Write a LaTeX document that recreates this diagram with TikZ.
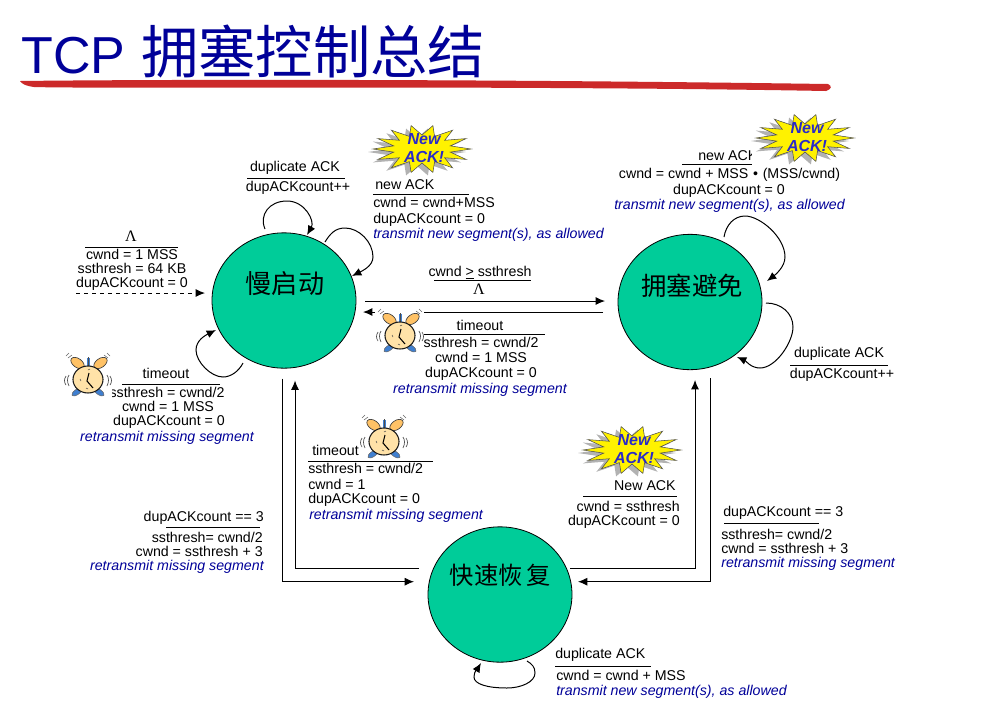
\documentclass[tikz,border=0pt]{standalone}
\usepackage{fontspec}
\setmainfont{Liberation Sans}
\newfontfamily\cjkfont{Noto Sans CJK SC}
\newfontfamily\lamfont{Liberation Serif}
\usetikzlibrary{arrows.meta,shapes.geometric,calc}
\definecolor{titleblue}{HTML}{000099}
\definecolor{statefill}{HTML}{00CC99}
\definecolor{brush}{HTML}{CC2A2A}
\definecolor{ackblue}{HTML}{2A2AC8}
\definecolor{peach}{HTML}{FFE2A8}
\definecolor{bell}{HTML}{FFC266}
\definecolor{clockblue}{HTML}{3F7FD0}
\tikzset{
  x=0.75pt,y=-0.75pt,
  state/.style={ellipse,draw=black,line width=0.6pt,fill=statefill,minimum width=108pt,minimum height=101.5pt,inner sep=0pt},
  statetext/.style={font=\cjkfont\fontsize{19}{19}\selectfont,inner sep=0pt,anchor=center},
  txt/.style={font=\fontsize{10.65}{12}\selectfont,inner sep=0pt,anchor=base},
  txtl/.style={txt,anchor=base west},
  txtr/.style={txt,anchor=base east},
  note/.style={text=titleblue,font=\fontsize{10.65}{12}\selectfont\itshape},
  lam/.style={txt,font=\lamfont\fontsize{12}{12}\selectfont},
  rulel/.style={line width=0.75pt},
  arr/.style={line width=0.75pt,-{Latex[length=7pt,width=6pt]}},
  loopa/.style={line width=0.75pt,-{Latex[length=7pt,width=6pt]}},
  burst/.pic={
    \fill[white] (-52,-27) rectangle (53,28);
    \fill[gray!60] plot[samples at={0,...,27},variable=\k] ({-4+(mod(\k,2)==0?49:29)*cos(\k*360/28)},{3+(mod(\k,2)==0?24:14)*sin(\k*360/28)}) -- cycle;
    \filldraw[fill=yellow,draw=black!70,line width=0.4pt] plot[samples at={0,...,27},variable=\k] ({1+(mod(\k,2)==0?49:29)*cos(\k*360/28)},{(mod(\k,2)==0?24:14)*sin(\k*360/28)}) -- cycle;
    \node[text=ackblue,font=\fontsize{12}{13.2}\selectfont\bfseries\itshape,align=center,inner sep=0pt] at (3,-1) {New\\ACK!};
  },
  clock/.pic={
    \fill[white] (-26,-24) rectangle (23,23);
    \foreach \sx in {-1,1}{
      \filldraw[fill=bell,draw=black!75,line width=0.5pt,rotate around={\sx*35:(\sx*11.5,-11)}] (\sx*11.5,-11) ellipse[x radius=7.5,y radius=4.5];
      \filldraw[fill=clockblue,draw=black!60,line width=0.4pt,rotate around={\sx*-35:(\sx*11-1,18)}] (\sx*11-1,18) ellipse[x radius=6,y radius=2.6];
      \draw[black!70,line width=0.5pt] (\sx*19-1,1) .. controls (\sx*21-1,4) and (\sx*21-1,8) .. (\sx*19-1,12);
      \draw[black!70,line width=0.5pt] (\sx*22-1,2) .. controls (\sx*24-1,5) and (\sx*24-1,8) .. (\sx*22-1,11);
      \draw[black!60,line width=0.4pt] (\sx*16-1,-19) -- (\sx*20-1,-16) (\sx*19-1,-21) -- (\sx*22-1,-18);
    }
    \fill[clockblue] (-2.5,-16) rectangle (0.5,-7);
    \draw[black!70,line width=0.4pt] (-1,-17) -- (-1,-8);
    \filldraw[fill=peach,draw=black!90,line width=0.8pt] (-1,5.5) ellipse[x radius=15,y radius=13.5];
    \draw[black,line width=0.8pt] (0,-1) -- (-2,7) -- (4,14);
    \draw[black!70,line width=0.4pt] (-9,5) -- (-8,7) (-1,-4) -- (1,-5) (-3,14) -- (-1,15);
  }
}
\newcommand{\tl}[5]{\node[#1] (#2) at (#3,#4) {#5};}
\begin{document}
\begin{tikzpicture}
\useasboundingbox (0,0) rectangle (986,708);
\fill[white] (0,0) rectangle (986,708);
% title
\node[inner sep=0pt,anchor=base west,text=titleblue,font=\fontsize{39}{42}\selectfont] (title) at (21,73.5) {TCP\hspace{12pt}{\cjkfont\fontsize{43}{44}\selectfont 拥塞控制总结}};
\fill[brush] (20,81) .. controls (100,80) and (400,78) .. (828,84) .. controls (832,86) and (832,89) .. (826,91) .. controls (500,85) and (100,89) .. (34,87) .. controls (26,86) and (22,84) .. (20,81) -- cycle;
% states
\node[state] (slow) at (284,300.5) {};
\node[state] (cavoid) at (690,302) {};
\node[state] (fast) at (500,594.5) {};
\node[statetext,font=\cjkfont\fontsize{19.6}{20}\selectfont] (slowt) at (285,284) {慢启动};
\node[statetext] (cavoidt) at (692,286) {拥塞避免};
\node[statetext,font=\cjkfont\fontsize{18.2}{19}\selectfont] (fastt) at (500.5,575) {快速恢\,复};
% connectors
\coordinate (init) at (76,293);
\draw[line width=0.75pt,dashed,-{Latex[length=7pt,width=6pt]}] (init) -- ([shift={(-79,-7.5)}]slow.center);
\draw[arr] ([shift={(81,0.5)}]slow.center) -- ([shift={(-85,-1)}]cavoid.center);
\draw[line width=0.75pt] ([shift={(-87,10)}]cavoid.center) -- ([shift={(-269,10)}]cavoid.center);
\draw[arr] ([shift={(-269,10)}]cavoid.center) -- ([shift={(79,11.5)}]slow.center);
\draw[arr] ([shift={(-2,78)}]slow.center) |- ([shift={(-86,-12.8)}]fast.center);
\draw[arr] ([shift={(-81,-26.5)}]fast.center) -| ([shift={(11,80)}]slow.center);
\draw[arr] ([shift={(20,76)}]cavoid.center) |- ([shift={(78,-12.8)}]fast.center);
\draw[arr] ([shift={(70,-26.5)}]fast.center) -| ([shift={(5,78)}]cavoid.center);
% loops
\draw[loopa] ([shift={(-19,-71.5)}]slow.center) .. controls +(-6,-14) and +(-18,0) .. ++(22,-28) .. controls +(18,0) and +(8,-14) .. ++(20,34);
\draw[loopa] ([shift={(41,-58.5)}]slow.center) .. controls +(5,-8) and +(-10,0) .. ++(20,-14) .. controls +(14,0) and +(0,-15) .. ++(28,29) .. controls +(0,9) and +(10,-5) .. ++(-21,19);
\draw[loopa] ([shift={(-41,62.5)}]slow.center) .. controls +(-4,8) and +(8,0) .. ++(-20,14) .. controls +(-12,0) and +(0,12) .. ++(-27,-27) .. controls +(0,-10) and +(-10,5) .. ++(20,-20);
\draw[loopa] ([shift={(27,66.5)}]fast.center) .. controls +(5,3) and +(0,-6) .. ++(8,12) .. controls +(0,9) and +(14,0) .. ++(-28,15) .. controls +(-20,0) and +(0,7) .. ++(-33,-11) .. controls +(0,-6) and +(-3,5) .. ++(7,-14);
\draw[loopa] ([shift={(34,-65)}]cavoid.center) .. controls +(2,-12) and +(-11,0) .. ++(21,-21) .. controls +(15,0) and +(0,-20) .. ++(40,41) .. controls +(0,10) and +(8,-6) .. ++(-18,24);
\draw[loopa] ([shift={(76,1)}]cavoid.center) .. controls +(15,0) and +(0,-14) .. ++(27,24) .. controls +(0,15) and +(16,0) .. ++(-33,41) .. controls +(-9,0) and +(9,4) .. ++(-23,-11);
% labels: initial
\node[lam] (il) at (131,241) {Λ};
\draw[rulel] (85,247) -- (178,247);
\tl{txt}{i1}{132}{259}{cwnd = 1 MSS}
\tl{txt}{i2}{132}{273}{ssthresh = 64 KB}
\tl{txt}{i3}{132}{287}{dupACKcount = 0}
% dup ack slow
\tl{txt}{a1}{295}{171}{duplicate ACK}
\draw[rulel] (247,178) -- (345,178);
\tl{txt}{a2}{298}{191}{dupACKcount++}
% new ack slow
\tl{txtl}{b1}{375}{189}{new ACK}
\draw[rulel] (373,194) -- (469,194);
\tl{txtl}{b2}{373}{207}{cwnd = cwnd+MSS}
\tl{txtl}{b3}{373}{223}{dupACKcount = 0}
\tl{txtl,note}{b4}{373}{238}{transmit new segment(s), as allowed}
% new ack avoid
\tl{txtl}{c1}{698}{160}{new ACK}
\draw[rulel] (682,164) -- (752,164);
\tl{txt}{c2}{729.5}{178}{cwnd = cwnd + MSS\,\,•\,\,(MSS/cwnd)}
\tl{txt}{c3}{729}{194}{dupACKcount = 0}
\tl{txt,note}{c4}{729.5}{209}{transmit new segment(s), as allowed}
% dup ack avoid
\tl{txt}{d1}{839}{357}{duplicate ACK}
\draw[rulel] (790,365) -- (888,365);
\tl{txt}{d2}{842}{378}{dupACKcount++}
% middle
\tl{txt}{m1}{480}{276}{cwnd \underline{>} ssthresh}
\draw[rulel] (434,280) -- (531,280);
\node[lam] (m2) at (479,294) {Λ};
\tl{txt}{m3}{480}{330}{timeout}
\draw[rulel] (422,334) -- (545,334);
\tl{txt}{m4}{481}{347}{ssthresh = cwnd/2}
\tl{txt}{m5}{481}{362}{cwnd = 1 MSS}
\tl{txt}{m6}{481}{377}{dupACKcount = 0}
\tl{txt,note}{m7}{480}{393}{retransmit missing segment}
% left timeout
\tl{txt}{t1}{166}{378}{timeout}
\draw[rulel] (122,384) -- (220,384);
\tl{txt}{t2}{167}{397}{ssthresh = cwnd/2}
\tl{txt}{t3}{168}{411}{cwnd = 1 MSS}
\tl{txt}{t4}{169}{425}{dupACKcount = 0}
\tl{txt,note}{t5}{167}{441}{retransmit missing segment}
% inner timeout
\tl{txtl}{u1}{312}{455}{timeout}
\draw[rulel] (308,461) -- (433,461);
\tl{txtl}{u2}{308}{473}{ssthresh = cwnd/2}
\tl{txtl}{u3}{308}{489}{cwnd = 1}
\tl{txtl}{u4}{308}{503}{dupACKcount = 0}
\tl{txtl,note}{u5}{309}{519}{retransmit missing segment}
% left 3 dup
\tl{txtr}{v1}{264}{521}{dupACKcount == 3}
\draw[rulel] (166,527) -- (260,527);
\tl{txtr}{v2}{263}{542}{ssthresh= cwnd/2}
\tl{txtr}{v3}{263}{556}{cwnd = ssthresh + 3}
\tl{txtr,note}{v4}{264}{570}{retransmit missing segment}
% new ack fast
\tl{txtr}{w1}{676}{490}{New ACK}
\draw[rulel] (583,496) -- (677,496);
\tl{txtr}{w2}{680}{511}{cwnd = ssthresh}
\tl{txtr}{w3}{680}{525}{dupACKcount = 0}
% right 3 dup
\tl{txtl}{x1}{723}{516}{dupACKcount == 3}
\draw[rulel] (724,523) -- (819,523);
\tl{txtl}{x2}{721}{539}{ssthresh= cwnd/2}
\tl{txtl}{x3}{721}{553}{cwnd = ssthresh + 3}
\tl{txtl,note}{x4}{721}{567}{retransmit missing segment}
% dup ack fast
\tl{txtl}{y1}{555}{658}{duplicate ACK}
\draw[rulel] (555,666) -- (651,666);
\tl{txtl}{y2}{556}{680}{cwnd = cwnd + MSS}
\tl{txtl,note}{y3}{556}{695}{transmit new segment(s), as allowed}
% clip art
\pic at (421,149) {burst};
\pic at (804,138) {burst};
\pic at (631,450) {burst};
\pic at (89,374) {clock};
\pic at (401,330) {clock};
\pic at (385,436) {clock};
\end{tikzpicture}
\end{document}
